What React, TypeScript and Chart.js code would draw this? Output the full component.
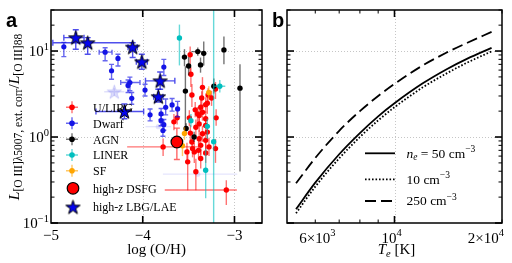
import React, { useEffect, useRef } from 'react';
import { Chart, registerables } from 'chart.js';

Chart.register(...registerables);

const SERIF = '"Liberation Serif", "Times New Roman", "DejaVu Serif", serif';
const SANS = '"Liberation Sans", Arial, "DejaVu Sans", sans-serif';

// rows: [log(O/H), ratio, ratioLow, ratioHigh, (logLow, logHigh)]
const ULIRG: number[][] = [
  [-3.483, 9.04, 5.68, 11.3],
  [-3.475, 5.38, 3.81, 6.48],
  [-3.464, 3.08, 2.24, 4.13],
  [-3.349, 3.78, 2.92, 4.97],
  [-3.207, 3.61, 2.77, 4.36],
  [-3.296, 2.47, 1.86, 3.0],
  [-3.368, 2.22, 1.72, 2.77],
  [-3.403, 1.86, 1.5, 2.24],
  [-3.357, 2.84, 2.3, 3.4],
  [-3.25, 2.84, 2.3, 3.45],
  [-3.314, 2.38, 1.9, 2.9],
  [-3.428, 2.07, 1.7, 2.55],
  [-3.349, 1.94, 1.55, 2.4],
  [-3.385, 1.78, 1.45, 2.2],
  [-3.314, 1.63, 1.3, 2.0],
  [-3.492, 1.67, 1.35, 2.05],
  [-3.625, 1.67, 1.4, 2.0],
  [-3.385, 1.42, 1.15, 1.75],
  [-3.314, 1.36, 1.1, 1.7],
  [-3.2, 1.67, 1.35, 2.1],
  [-3.421, 1.3, 1.05, 1.6],
  [-3.481, 1.11, 0.9, 1.38],
  [-3.349, 1.09, 0.88, 1.35],
  [-3.296, 1.14, 0.92, 1.42],
  [-3.385, 0.955, 0.76, 1.2],
  [-3.314, 0.914, 0.72, 1.15],
  [-3.464, 0.875, 0.7, 1.1],
  [-3.368, 0.8, 0.62, 1.02],
  [-3.278, 0.767, 0.6, 0.98],
  [-3.457, 0.733, 0.58, 0.93],
  [-3.778, 0.767, 0.6, 0.96, -4.17, -3.4],
  [-3.392, 0.7, 0.55, 0.9],
  [-3.314, 0.653, 0.5, 0.85],
  [-3.518, 0.671, 0.52, 0.86],
  [-3.438, 0.671, 0.5, 0.86],
  [-3.51, 0.514, 0.24, 0.73],
  [-3.421, 0.394, 0.24, 0.56],
  [-3.368, 0.562, 0.43, 0.72],
  [-3.089, 0.242, 0.162, 0.315, -3.76, -2.974],
  [-3.207, 0.733, 0.5, 0.95],
  [-3.66, 1.5, 1.2, 1.85],
  [-3.288, 3.08, 2.5, 3.7],
];

const DWARF: number[][] = [
  [-4.86, 11.2, 8.6, 12.6],
  [-4.41, 9.7, 7.7, 10.9, -4.475, -4.335],
  [-4.27, 8.2, 6.7, 9.16],
  [-4.34, 5.9, 4.7, 7.0],
  [-4.14, 4.3, 3.45, 4.97, -4.24, -4.03],
  [-4.16, 3.98, 3.3, 4.6],
  [-4.12, 2.82, 2.4, 3.3],
  [-3.975, 3.51, 3.0, 4.1],
  [-3.77, 6.5, 5.2, 8.0],
  [-3.92, 1.81, 1.54, 2.12],
  [-3.75, 2.22, 1.81, 2.77],
  [-3.68, 2.36, 2.0, 2.8],
  [-3.62, 2.12, 1.72, 2.6],
  [-3.8, 1.86, 1.6, 2.15],
  [-3.8, 1.55, 1.35, 1.8],
  [-3.78, 1.19, 1.02, 1.38],
  [-3.77, 1.39, 1.2, 1.6],
];

const DWARF_FAINT: number[][] = [
  [-3.4, 0.37, 0.37, 0.37, -3.78, -2.97],
  [-3.83, 1.32, 1.32, 1.32, -3.97, -3.69],
];

const AGN: number[][] = [
  [-3.545, 8.5, 6.66, 10.5],
  [-3.5, 6.7, 5.2, 8.5],
  [-3.4, 9.85, 8.8, 11.0, -3.47, -3.36],
  [-3.335, 9.4, 6.8, 12.9],
  [-3.37, 6.9, 5.6, 8.4],
  [-3.115, 10.3, 7.0, 14.8],
  [-3.535, 3.42, 1.32, 6.66],
  [-3.225, 3.9, 3.2, 4.8],
  [-2.94, 3.7, 0.397, 7.0],
  [-3.527, 1.26, 1.1, 1.45],
  [-3.44, 1.0, 0.88, 1.15],
];

const LINER: number[][] = [
  [-3.6, 14.2, 6.8, 20.3],
  [-3.16, 3.9, 3.3, 4.6, -3.22, -3.1],
  [-3.475, 1.55, 1.3, 1.85],
  [-3.296, 1.33, 0.95, 1.63],
  [-3.227, 0.88, 0.05, 50],
  [-3.314, 0.41, 0.194, 0.733],
];

const SF: number[][] = [
  [-3.28, 3.3, 2.8, 3.9],
  [-3.545, 1.1, 0.93, 1.3],
  [-3.567, 0.79, 0.6, 0.95],
];

const DSFG: number[][] = [[-3.628, 0.875, 0.547, 1.27]];

const LBG: number[][] = [
  [-4.73, 14.3, 10.5, 17.7, -4.86, -4.64],
  [-4.6, 12.5, 9.16, 14.3, -4.98, -4.11],
  [-4.11, 11.1, 8.4, 12.5, -4.16, -4.06],
  [-4.01, 7.5, 6.15, 9.16, -4.07, -3.95],
  [-3.81, 4.5, 3.6, 5.7, -3.97, -3.65],
  [-3.83, 2.94, 2.55, 3.6, -3.88, -3.78],
  [-4.2, 1.98, 1.63, 2.42, -4.51, -3.99],
];

const LBG_FAINT: number[][] = [[-4.31, 3.36, 3.0, 3.7, -4.42, -4.2]];

// panel b curves
const TE = [5300, 6000, 7000, 8000, 9000, 10000, 12000, 14000, 16000, 18700];
const NE50 = [0.145, 0.295, 0.63, 1.11, 1.74, 2.47, 4.21, 6.15, 8.17, 10.9];
const NE10 = [0.13, 0.265, 0.565, 1.0, 1.56, 2.22, 3.78, 5.5, 7.35, 9.9];
const NE250 = [0.29, 0.57, 1.18, 2.0, 3.0, 4.15, 6.8, 9.6, 12.5, 16.7];

// axes / ticks
const X_MIN = -5, X_MAX = -2.7, Y_MIN = 0.1, Y_MAX = 30;
const T_MIN = 5000, T_MAX = 20000;
const Y_MAJOR = [0.1, 1, 10];
const Y_MAJOR_EXP = ['\u22121', '0', '1'];
const Y_MINOR = [0.2, 0.3, 0.4, 0.5, 0.6, 0.7, 0.8, 0.9, 2, 3, 4, 5, 6, 7, 8, 9, 20, 30];
const LX_MAJOR = [-5, -4, -3];
const LX_LABELS = ['\u22125', '\u22124', '\u22123'];
const RX_MAJOR = [10000];
const RX_MINOR = [6000, 7000, 8000, 9000, 20000];
const RX_LABEL_AT = [6000, 10000, 20000];
const RX_LABEL_BASE = ['6\u00d710', '10', '2\u00d710'];
const RX_LABEL_EXP = ['3', '4', '4'];

const LEGEND_A = ['U/LIRG', 'Dwarf', 'AGN', 'LINER', 'SF', 'DSFG', 'LBG/LAE'];
const LEGEND_B = ['50', '10', '250'];

type Part = { t: string; s: number; i?: boolean; dy?: number };
const fontOf = (p: Part) => `${p.i ? 'italic ' : ''}${p.s}px ${SERIF}`;
function richWidth(ctx: CanvasRenderingContext2D, parts: Part[]) {
  let w = 0;
  for (const p of parts) { ctx.font = fontOf(p); w += ctx.measureText(p.t).width; }
  return w;
}
function drawRich(ctx: CanvasRenderingContext2D, parts: Part[], x: number, y: number, align = 'left') {
  const w = richWidth(ctx, parts);
  let cx = align === 'center' ? x - w / 2 : align === 'right' ? x - w : x;
  ctx.textAlign = 'left';
  ctx.textBaseline = 'alphabetic';
  ctx.fillStyle = '#000';
  for (const p of parts) {
    ctx.font = fontOf(p);
    ctx.fillText(p.t, cx, y + (p.dy || 0));
    cx += ctx.measureText(p.t).width;
  }
}

function makeStar(R: number, fill: string, stroke: string, alpha: number) {
  const size = Math.ceil(2 * R + 4);
  const c = document.createElement('canvas');
  c.width = size; c.height = size;
  const g = c.getContext('2d')!;
  g.globalAlpha = alpha;
  const cx = size / 2, cy = size / 2 + R * 0.09;
  g.beginPath();
  for (let k = 0; k < 10; k++) {
    const r = k % 2 === 0 ? R : R * 0.382;
    const a = -Math.PI / 2 + (k * Math.PI) / 5;
    const px = cx + r * Math.cos(a), py = cy + r * Math.sin(a);
    if (k === 0) g.moveTo(px, py); else g.lineTo(px, py);
  }
  g.closePath();
  g.fillStyle = fill; g.fill();
  g.lineWidth = 1; g.strokeStyle = stroke; g.stroke();
  return c;
}

function drawErrs(chart: any, rows: number[][], color: string, cap: number, lw: number) {
  const { ctx, chartArea: a } = chart;
  const xs = chart.scales.x, ys = chart.scales.y;
  ctx.save();
  ctx.beginPath();
  ctx.rect(a.left, a.top, a.right - a.left, a.bottom - a.top);
  ctx.clip();
  ctx.strokeStyle = color;
  ctx.lineWidth = lw;
  for (const e of rows) {
    const px = xs.getPixelForValue(e[0]), py = ys.getPixelForValue(e[1]);
    ctx.beginPath();
    if (e[2] !== e[3]) {
      const y1 = ys.getPixelForValue(e[2]), y2 = ys.getPixelForValue(e[3]);
      ctx.moveTo(px, y1); ctx.lineTo(px, y2);
      if (cap) {
        ctx.moveTo(px - cap, y1); ctx.lineTo(px + cap, y1);
        ctx.moveTo(px - cap, y2); ctx.lineTo(px + cap, y2);
      }
    }
    if (e.length > 5) {
      const x1 = xs.getPixelForValue(e[4]), x2 = xs.getPixelForValue(e[5]);
      ctx.moveTo(x1, py); ctx.lineTo(x2, py);
      if (cap) {
        ctx.moveTo(x1, py - cap); ctx.lineTo(x1, py + cap);
        ctx.moveTo(x2, py - cap); ctx.lineTo(x2, py + cap);
      }
    }
    ctx.stroke();
  }
  ctx.restore();
}

function drawGrid(chart: any, xv: number[], yv: number[]) {
  const { ctx, chartArea: a } = chart;
  ctx.save();
  ctx.strokeStyle = '#b8b8b8';
  ctx.lineWidth = 0.8;
  ctx.setLineDash([1, 2]);
  for (const v of xv) {
    const p = Math.round(chart.scales.x.getPixelForValue(v)) + 0.5;
    ctx.beginPath(); ctx.moveTo(p, a.top); ctx.lineTo(p, a.bottom); ctx.stroke();
  }
  for (const v of yv) {
    const p = Math.round(chart.scales.y.getPixelForValue(v)) + 0.5;
    ctx.beginPath(); ctx.moveTo(a.left, p); ctx.lineTo(a.right, p); ctx.stroke();
  }
  ctx.restore();
}

function drawFrame(chart: any, xMaj: number[], xMin: number[]) {
  const { ctx, chartArea: a } = chart;
  const xs = chart.scales.x, ys = chart.scales.y;
  ctx.save();
  ctx.strokeStyle = '#000';
  const tick = (x1: number, y1: number, x2: number, y2: number, w: number) => {
    ctx.lineWidth = w;
    ctx.beginPath(); ctx.moveTo(x1, y1); ctx.lineTo(x2, y2); ctx.stroke();
  };
  for (const v of Y_MAJOR) {
    const p = ys.getPixelForValue(v);
    tick(a.left, p, a.left + 7, p, 1.6);
    tick(a.right, p, a.right - 7, p, 1.6);
  }
  for (const v of Y_MINOR) {
    const p = ys.getPixelForValue(v);
    tick(a.left, p, a.left + 3.5, p, 1);
    tick(a.right, p, a.right - 3.5, p, 1);
  }
  for (const v of xMaj) {
    const p = xs.getPixelForValue(v);
    tick(p, a.bottom, p, a.bottom - 7, 1.6);
    tick(p, a.top, p, a.top + 7, 1.6);
  }
  for (const v of xMin) {
    const p = xs.getPixelForValue(v);
    tick(p, a.bottom, p, a.bottom - 3.5, 1);
    tick(p, a.top, p, a.top + 3.5, 1);
  }
  ctx.lineWidth = 1.5;
  ctx.strokeRect(a.left, a.top, a.right - a.left, a.bottom - a.top);
  ctx.restore();
}

function panelLetter(ctx: CanvasRenderingContext2D, t: string, x: number, y: number) {
  ctx.save();
  ctx.font = `bold 20px ${SANS}`;
  ctx.fillStyle = '#000';
  ctx.textAlign = 'left';
  ctx.textBaseline = 'alphabetic';
  ctx.fillText(t, x, y);
  ctx.restore();
}

interface Group { rows: number[][]; color: string; ecolor: string; cap: number; r: number; style?: any; border?: string; bw?: number; }

export default function App() {
  const refA = useRef<HTMLCanvasElement>(null);
  const refB = useRef<HTMLCanvasElement>(null);

  useEffect(() => {
    const star = makeStar(7.5, '#0505f0', '#000', 1);
    const starFaint = makeStar(7.5, '#0a0ae6', '#0a0ae6', 0.14);

    // bottom -> top drawing order
    const groups: Group[] = [
      { rows: DWARF_FAINT, color: 'rgba(40,40,230,0.12)', ecolor: 'rgba(40,40,230,0.12)', cap: 0, r: 2.6 },
      { rows: LBG_FAINT, color: 'rgba(0,0,0,0)', ecolor: 'rgba(40,40,230,0.14)', cap: 0, r: 8, style: starFaint },
      { rows: ULIRG, color: '#ff0000', ecolor: 'rgba(255,0,0,0.55)', cap: 0, r: 2.7 },
      { rows: DWARF, color: '#1414e6', ecolor: 'rgba(20,20,230,0.65)', cap: 2.5, r: 2.6 },
      { rows: AGN, color: '#000000', ecolor: 'rgba(0,0,0,0.55)', cap: 0, r: 2.7 },
      { rows: LINER, color: '#00bfbf', ecolor: 'rgba(0,191,191,0.6)', cap: 0, r: 2.7 },
      { rows: SF, color: '#ffa500', ecolor: 'rgba(255,165,0,0.6)', cap: 0, r: 2.7 },
      { rows: DSFG, color: '#ff0000', ecolor: 'rgba(255,0,0,0.6)', cap: 3, r: 5.8, border: '#000', bw: 1.2 },
      { rows: LBG, color: '#0505f0', ecolor: 'rgba(20,20,230,0.75)', cap: 3, r: 8, style: star },
    ];
    const n = groups.length;
    const datasets: any[] = groups.map((g, i) => ({
      data: g.rows.map((r) => ({ x: r[0], y: r[1] })),
      order: n - i,
      pointStyle: g.style || 'circle',
      pointRadius: g.r,
      backgroundColor: g.color,
      borderColor: g.border || g.color,
      borderWidth: g.bw || 0,
      showLine: false,
    }));

    const decorA = {
      id: 'decorA',
      beforeDatasetsDraw(chart: any) {
        drawGrid(chart, [-4, -3], [1, 10]);
      },
      beforeDatasetDraw(chart: any, args: any) {
        const g = groups[args.index];
        drawErrs(chart, g.rows, g.ecolor, g.cap, 1.4);
      },
      afterDatasetsDraw(chart: any) {
        const { ctx, chartArea: a } = chart;
        const xs = chart.scales.x, ys = chart.scales.y;
        drawFrame(chart, LX_MAJOR.slice(1), []);
        Y_MAJOR.forEach((v, i) => {
          const p = ys.getPixelForValue(v);
          drawRich(ctx, [{ t: '10', s: 15 }, { t: Y_MAJOR_EXP[i], s: 10.5, dy: -6.5 }], a.left - 2, p + 5, 'right');
        });
        LX_MAJOR.forEach((v, i) => {
          drawRich(ctx, [{ t: LX_LABELS[i], s: 15 }], xs.getPixelForValue(v), 239.5, 'center');
        });
        drawRich(ctx, [{ t: 'log (O/H)', s: 15 }], (a.left + a.right) / 2, 253.5, 'center');
        ctx.save();
        ctx.translate(19, 117);
        ctx.rotate(-Math.PI / 2);
        drawRich(ctx, [
          { t: 'L', s: 15.5, i: true },
          { t: '[O III]\u03bb5007, ext. corr', s: 11.5, dy: 3 },
          { t: '/', s: 15.5 },
          { t: 'L', s: 15.5, i: true },
          { t: '[O III]88', s: 11.5, dy: 3 },
        ], 0, 0, 'center');
        ctx.restore();
        const rowsY = [107.3, 123.3, 139.3, 155, 170.7, 188.3, 207];
        const mx = 72;
        rowsY.forEach((yy, i) => {
          const g = groups[i + 2];
          ctx.save();
          if (i < 5) {
            ctx.strokeStyle = g.ecolor;
            ctx.lineWidth = 1.4;
            ctx.beginPath();
            ctx.moveTo(mx - 6, yy); ctx.lineTo(mx + 6, yy);
            ctx.moveTo(mx, yy - 6); ctx.lineTo(mx, yy + 6);
            ctx.stroke();
            ctx.fillStyle = g.color;
            ctx.beginPath(); ctx.arc(mx, yy, 2.8, 0, Math.PI * 2); ctx.fill();
          } else if (i === 5) {
            ctx.fillStyle = g.color;
            ctx.strokeStyle = '#000';
            ctx.lineWidth = 1.2;
            ctx.beginPath(); ctx.arc(mx + 1, yy, 5.8, 0, Math.PI * 2); ctx.fill(); ctx.stroke();
          } else {
            ctx.drawImage(star, mx + 1 - star.width / 2, yy - star.height / 2);
          }
          ctx.restore();
          const parts: Part[] = i < 5
            ? [{ t: LEGEND_A[i], s: 12 }]
            : [{ t: 'high-', s: 12 }, { t: 'z', s: 12, i: true }, { t: ' ' + LEGEND_A[i], s: 12 }];
          drawRich(ctx, parts, 93, yy + 4.3, 'left');
        });
        panelLetter(ctx, 'a', 6, 26.5);
      },
    };

    const chartA = new Chart(refA.current!, {
      type: 'scatter',
      data: { datasets },
      options: {
        responsive: false,
        animation: false,
        devicePixelRatio: 1,
        layout: { padding: { left: 51, top: 10, right: 5, bottom: 40 } },
        plugins: { legend: { display: false }, tooltip: { enabled: false } },
        events: [],
        scales: {
          x: { type: 'linear', min: X_MIN, max: X_MAX, display: false },
          y: { type: 'logarithmic', min: Y_MIN, max: Y_MAX, display: false },
        },
      },
      plugins: [decorA],
    } as any);

    const curveStyles = [
      { data: NE50, dash: [] as number[] },
      { data: NE10, dash: [1.6, 1.9] },
      { data: NE250, dash: [11, 5] },
    ];
    const labelAlign = ['center', 'center', 'right'];
    const labelShift = [2, -3, 2];
    const decorB = {
      id: 'decorB',
      beforeDatasetsDraw(chart: any) {
        drawGrid(chart, [10000], [1, 10]);
      },
      afterDatasetsDraw(chart: any) {
        const { ctx, chartArea: a } = chart;
        const xs = chart.scales.x;
        drawFrame(chart, RX_MAJOR, RX_MINOR);
        RX_LABEL_AT.forEach((v, i) => {
          drawRich(ctx, [{ t: RX_LABEL_BASE[i], s: 15 }, { t: RX_LABEL_EXP[i], s: 10.5, dy: -6.5 }],
            xs.getPixelForValue(v) + labelShift[i], 242.5, labelAlign[i]);
        });
        drawRich(ctx, [{ t: 'T', s: 15, i: true }, { t: 'e', s: 10.5, i: true, dy: 3 }, { t: ' [K]', s: 15 }], (a.left + a.right) / 2 + 2, 254, 'center');
        const rowsY = [153.3, 179.3, 201];
        const x0 = 365 - 268, x1 = 395 - 268, tx = 406.5 - 268;
        rowsY.forEach((yy, i) => {
          ctx.save();
          ctx.strokeStyle = '#000';
          ctx.lineWidth = 1.8;
          ctx.setLineDash(curveStyles[i].dash);
          ctx.beginPath(); ctx.moveTo(x0, yy); ctx.lineTo(x1, yy); ctx.stroke();
          ctx.restore();
          const parts: Part[] = i === 0
            ? [{ t: 'n', s: 13.5, i: true }, { t: 'e', s: 9.5, i: true, dy: 2.5 }, { t: ' = 50 cm', s: 13.5 }, { t: '\u22123', s: 9.5, dy: -5.5 }]
            : [{ t: LEGEND_B[i] + ' cm', s: 13.5 }, { t: '\u22123', s: 9.5, dy: -5.5 }];
          drawRich(ctx, parts, tx, yy + 4.2, 'left');
        });
        panelLetter(ctx, 'b', 272 - 268, 26.5);
      },
    };

    const chartB = new Chart(refB.current!, {
      type: 'scatter',
      data: {
        datasets: curveStyles.map((c) => ({
          data: TE.map((t, i) => ({ x: t, y: c.data[i] })),
          showLine: true,
          borderColor: '#000',
          borderWidth: 1.8,
          borderDash: c.dash,
          pointRadius: 0,
          cubicInterpolationMode: 'monotone',
          fill: false,
        })),
      },
      options: {
        responsive: false,
        animation: false,
        devicePixelRatio: 1,
        layout: { padding: { left: 19, top: 10, right: 10, bottom: 40 } },
        plugins: { legend: { display: false }, tooltip: { enabled: false } },
        events: [],
        scales: {
          x: { type: 'logarithmic', min: T_MIN, max: T_MAX, display: false },
          y: { type: 'logarithmic', min: Y_MIN, max: Y_MAX, display: false },
        },
      },
      plugins: [decorB],
    } as any);

    return () => { chartA.destroy(); chartB.destroy(); };
  }, []);

  return (
    <div style={{ position: 'absolute', left: 0, top: 0, width: 512, height: 263, background: '#fff', overflow: 'hidden' }}>
      <canvas ref={refA} width={270} height={263} style={{ position: 'absolute', left: 0, top: 0, width: 270, height: 263 }} />
      <canvas ref={refB} width={244} height={263} style={{ position: 'absolute', left: 268, top: 0, width: 244, height: 263 }} />
    </div>
  );
}
